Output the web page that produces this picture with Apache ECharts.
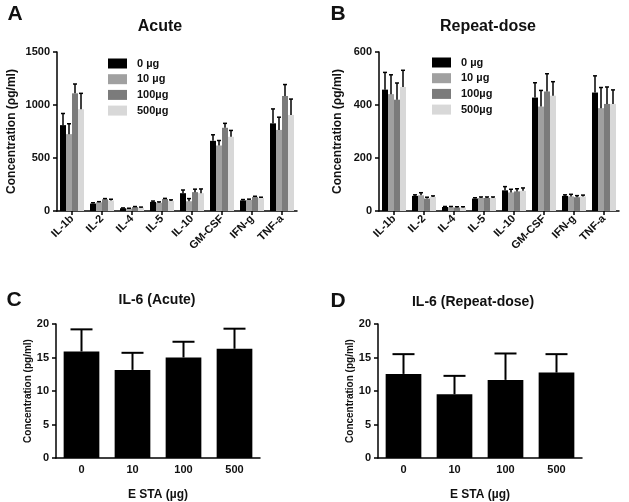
<!DOCTYPE html>
<html>
<head>
<meta charset="utf-8">
<script src="https://cdn.jsdelivr.net/npm/echarts@6/dist/echarts.min.js"></script>
<style>html,body{margin:0;padding:0;background:#fff;}#c{width:629px;height:502px;}</style>
</head>
<body>
<div id="c"></div>
<script>
// ---- data ----
var cytokines = ['IL-1b','IL-2','IL-4','IL-5','IL-10','GM-CSF','IFN-g','TNF-a'];
var doses = ['0 µg','10 µg','100µg','500µg'];
var acute0 = [810, 70, 26, 86, 168, 662, 100, 827];
var acute10 = [725, 82, 23, 78, 92, 618, 104, 765];
var acute100 = [1110, 111, 38, 113, 178, 785, 133, 1085];
var acute500 = [960, 99, 32, 95, 168, 700, 122, 906];
var acuteErr0 = [110, 8, 3, 8, 30, 57, 8, 136];
var acuteErr10 = [98, 6, 3, 8, 25, 47, 8, 120];
var acuteErr100 = [88, 6, 4, 6, 28, 42, 6, 108];
var acuteErr500 = [150, 12, 5, 10, 40, 60, 8, 150];
var repeat0 = [458, 57, 15, 47, 78, 428, 57, 447];
var repeat10 = [441, 59, 14, 49, 70, 394, 55, 388];
var repeat100 = [420, 47, 13, 49, 74, 451, 52, 404];
var repeat500 = [468, 53, 13, 49, 76, 435, 55, 404];
var repeatErr0 = [65, 4, 2, 3, 14, 56, 4, 63];
var repeatErr10 = [73, 10, 3, 4, 12, 61, 8, 78];
var repeatErr100 = [63, 5, 3, 4, 10, 67, 6, 64];
var repeatErr500 = [63, 4, 3, 4, 11, 53, 5, 53];
var il6Doses = ['0','10','100','500'];
var il6Acute = [15.9, 13.15, 15.0, 16.3];
var il6AcuteErr = [3.3, 2.55, 2.35, 3.0];
var il6Repeat = [12.55, 9.5, 11.66, 12.75];
var il6RepeatErr = [2.95, 2.76, 3.94, 2.75];

var doseColors = ['#000000', '#a0a0a0', '#7b7b7b', '#d8d8d8'];
var FONT = 'Liberation Sans, Arial, sans-serif';

var chart = echarts.init(document.getElementById('c'), null, {renderer: 'canvas'});

function errSeries(name, xi, yi, means, errs, k, n, catGap, capW, lw) {
  var data = means.map(function (m, i) { return [i, m, errs[i]]; });
  return {
    type: 'custom', name: name + '_err', xAxisIndex: xi, yAxisIndex: yi, z: 5,
    silent: true, legendHoverLink: false,
    data: data,
    encode: {x: 0, y: 1},
    renderItem: function (params, api) {
      var c = api.value(0), m = api.value(1), e = api.value(2);
      var p0 = api.coord([c, m]);
      var p1 = api.coord([c, m + e]);
      var band = api.size([1, 0])[0];
      var groupW = band * (1 - catGap);
      var barW = groupW / n;
      var x = p0[0] - groupW / 2 + barW * (k + 0.5);
      return {
        type: 'group',
        children: [
          {type: 'line', shape: {x1: x, y1: p0[1], x2: x, y2: p1[1]}, style: {stroke: '#000', lineWidth: lw}},
          {type: 'line', shape: {x1: x - capW / 2, y1: p1[1], x2: x + capW / 2, y2: p1[1]}, style: {stroke: '#000', lineWidth: lw}}
        ]
      };
    }
  };
}

function barSeries(name, xi, yi, vals, color, catGap) {
  return {
    type: 'bar', name: name, xAxisIndex: xi, yAxisIndex: yi, data: vals,
    itemStyle: {color: color}, barGap: '0%', barCategoryGap: (catGap * 100) + '%',
    silent: true
  };
}

var acuteSets = [acute0, acute10, acute100, acute500];
var acuteErrs = [acuteErr0, acuteErr10, acuteErr100, acuteErr500];
var repeatSets = [repeat0, repeat10, repeat100, repeat500];
var repeatErrs = [repeatErr0, repeatErr10, repeatErr100, repeatErr500];

var series = [];
doses.forEach(function (d, k) { series.push(barSeries(d, 0, 0, acuteSets[k], doseColors[k], 0.2)); });
doses.forEach(function (d, k) { series.push(errSeries(d, 0, 0, acuteSets[k], acuteErrs[k], k, 4, 0.2, 4, 1.5)); });
doses.forEach(function (d, k) { series.push(barSeries(d, 1, 1, repeatSets[k], doseColors[k], 0.2)); });
doses.forEach(function (d, k) { series.push(errSeries(d, 1, 1, repeatSets[k], repeatErrs[k], k, 4, 0.2, 4, 1.5)); });
series.push(barSeries('IL-6 Acute', 2, 2, il6Acute, '#000', 0.3));
series.push(errSeries('IL-6 Acute', 2, 2, il6Acute, il6AcuteErr, 0, 1, 0.3, 22, 2));
series.push(barSeries('IL-6 Repeat', 3, 3, il6Repeat, '#000', 0.3));
series.push(errSeries('IL-6 Repeat', 3, 3, il6Repeat, il6RepeatErr, 0, 1, 0.3, 22, 2));

var axisLine = {show: true, lineStyle: {color: '#000', width: 1.5}};
function catAxis(gi, data, ticks, name) {
  return {
    type: 'category', gridIndex: gi, data: data,
    axisLine: axisLine,
    axisTick: {show: ticks, alignWithLabel: true, length: 4, lineStyle: {color: '#000', width: 1.5}},
    axisLabel: ticks ? {rotate: 45, fontSize: 11, fontWeight: 'bold', color: '#111', fontFamily: FONT, margin: 6, interval: 0}
                     : {fontSize: 11, fontWeight: 'bold', color: '#111', fontFamily: FONT, margin: 6, interval: 0},
    name: name || '', nameLocation: 'middle', nameGap: 31,
    nameTextStyle: {fontSize: 12, fontWeight: 'bold', color: '#111', fontFamily: FONT}
  };
}
function valAxis(gi, max, interval, name, nameGap, nameSize) {
  return {
    type: 'value', gridIndex: gi, min: 0, max: max, interval: interval,
    splitLine: {show: false},
    axisLine: axisLine,
    axisTick: {show: true, length: 4, lineStyle: {color: '#000', width: 1.5}},
    axisLabel: {fontSize: 11, fontWeight: 'bold', color: '#111', fontFamily: FONT, margin: 7,
      formatter: function (v) { return String(v); }},
    name: name, nameLocation: 'middle', nameGap: nameGap, nameRotate: 90,
    nameTextStyle: {fontSize: nameSize, fontWeight: 'bold', color: '#111', fontFamily: FONT}
  };
}

function ttl(text, x, y, size) {
  return {text: text, left: x, top: y, textAlign: 'center', padding: 0,
    textStyle: {fontSize: size, fontWeight: 'bold', color: '#111', fontFamily: FONT}};
}

var legendBase = {
  orient: 'vertical', itemWidth: 19, itemHeight: 10, itemGap: 4.7, padding: 0,
  icon: 'rect', selectedMode: false,
  textStyle: {fontSize: 11, fontWeight: 'bold', color: '#111', fontFamily: FONT, padding: [0, 0, 0, 5]},
  data: doses
};

chart.setOption({
  animation: false,
  backgroundColor: '#fff',
  title: [
    ttl('A', 15, 4, 21), ttl('Acute', 160, 19, 16),
    ttl('B', 338, 4, 21), ttl('Repeat-dose', 488, 19, 16),
    ttl('C', 14, 290, 21), ttl('IL-6 (Acute)', 157, 293, 14),
    ttl('D', 338, 291, 21), ttl('IL-6 (Repeat-dose)', 473, 295, 14)
  ],
  legend: [
    Object.assign({}, legendBase, {left: 108, top: 58}),
    Object.assign({}, legendBase, {left: 432, top: 57})
  ],
  grid: [
    {left: 57, top: 52, width: 240, height: 159},
    {left: 379, top: 52, width: 240, height: 159},
    {left: 56, top: 324, width: 204, height: 134},
    {left: 378, top: 324, width: 204, height: 134}
  ],
  xAxis: [
    catAxis(0, cytokines, true),
    catAxis(1, cytokines, true),
    catAxis(2, il6Doses, false, 'E STA (µg)'),
    catAxis(3, il6Doses, false, 'E STA (µg)')
  ],
  yAxis: [
    valAxis(0, 1500, 500, 'Concentration (ρg/ml)', 39, 12),
    valAxis(1, 600, 200, 'Concentration (ρg/ml)', 35, 12),
    valAxis(2, 20, 5, 'Concentration (pg/ml)', 23, 10),
    valAxis(3, 20, 5, 'Concentration (pg/ml)', 18, 10)
  ],
  series: series
});
</script>
</body>
</html>
